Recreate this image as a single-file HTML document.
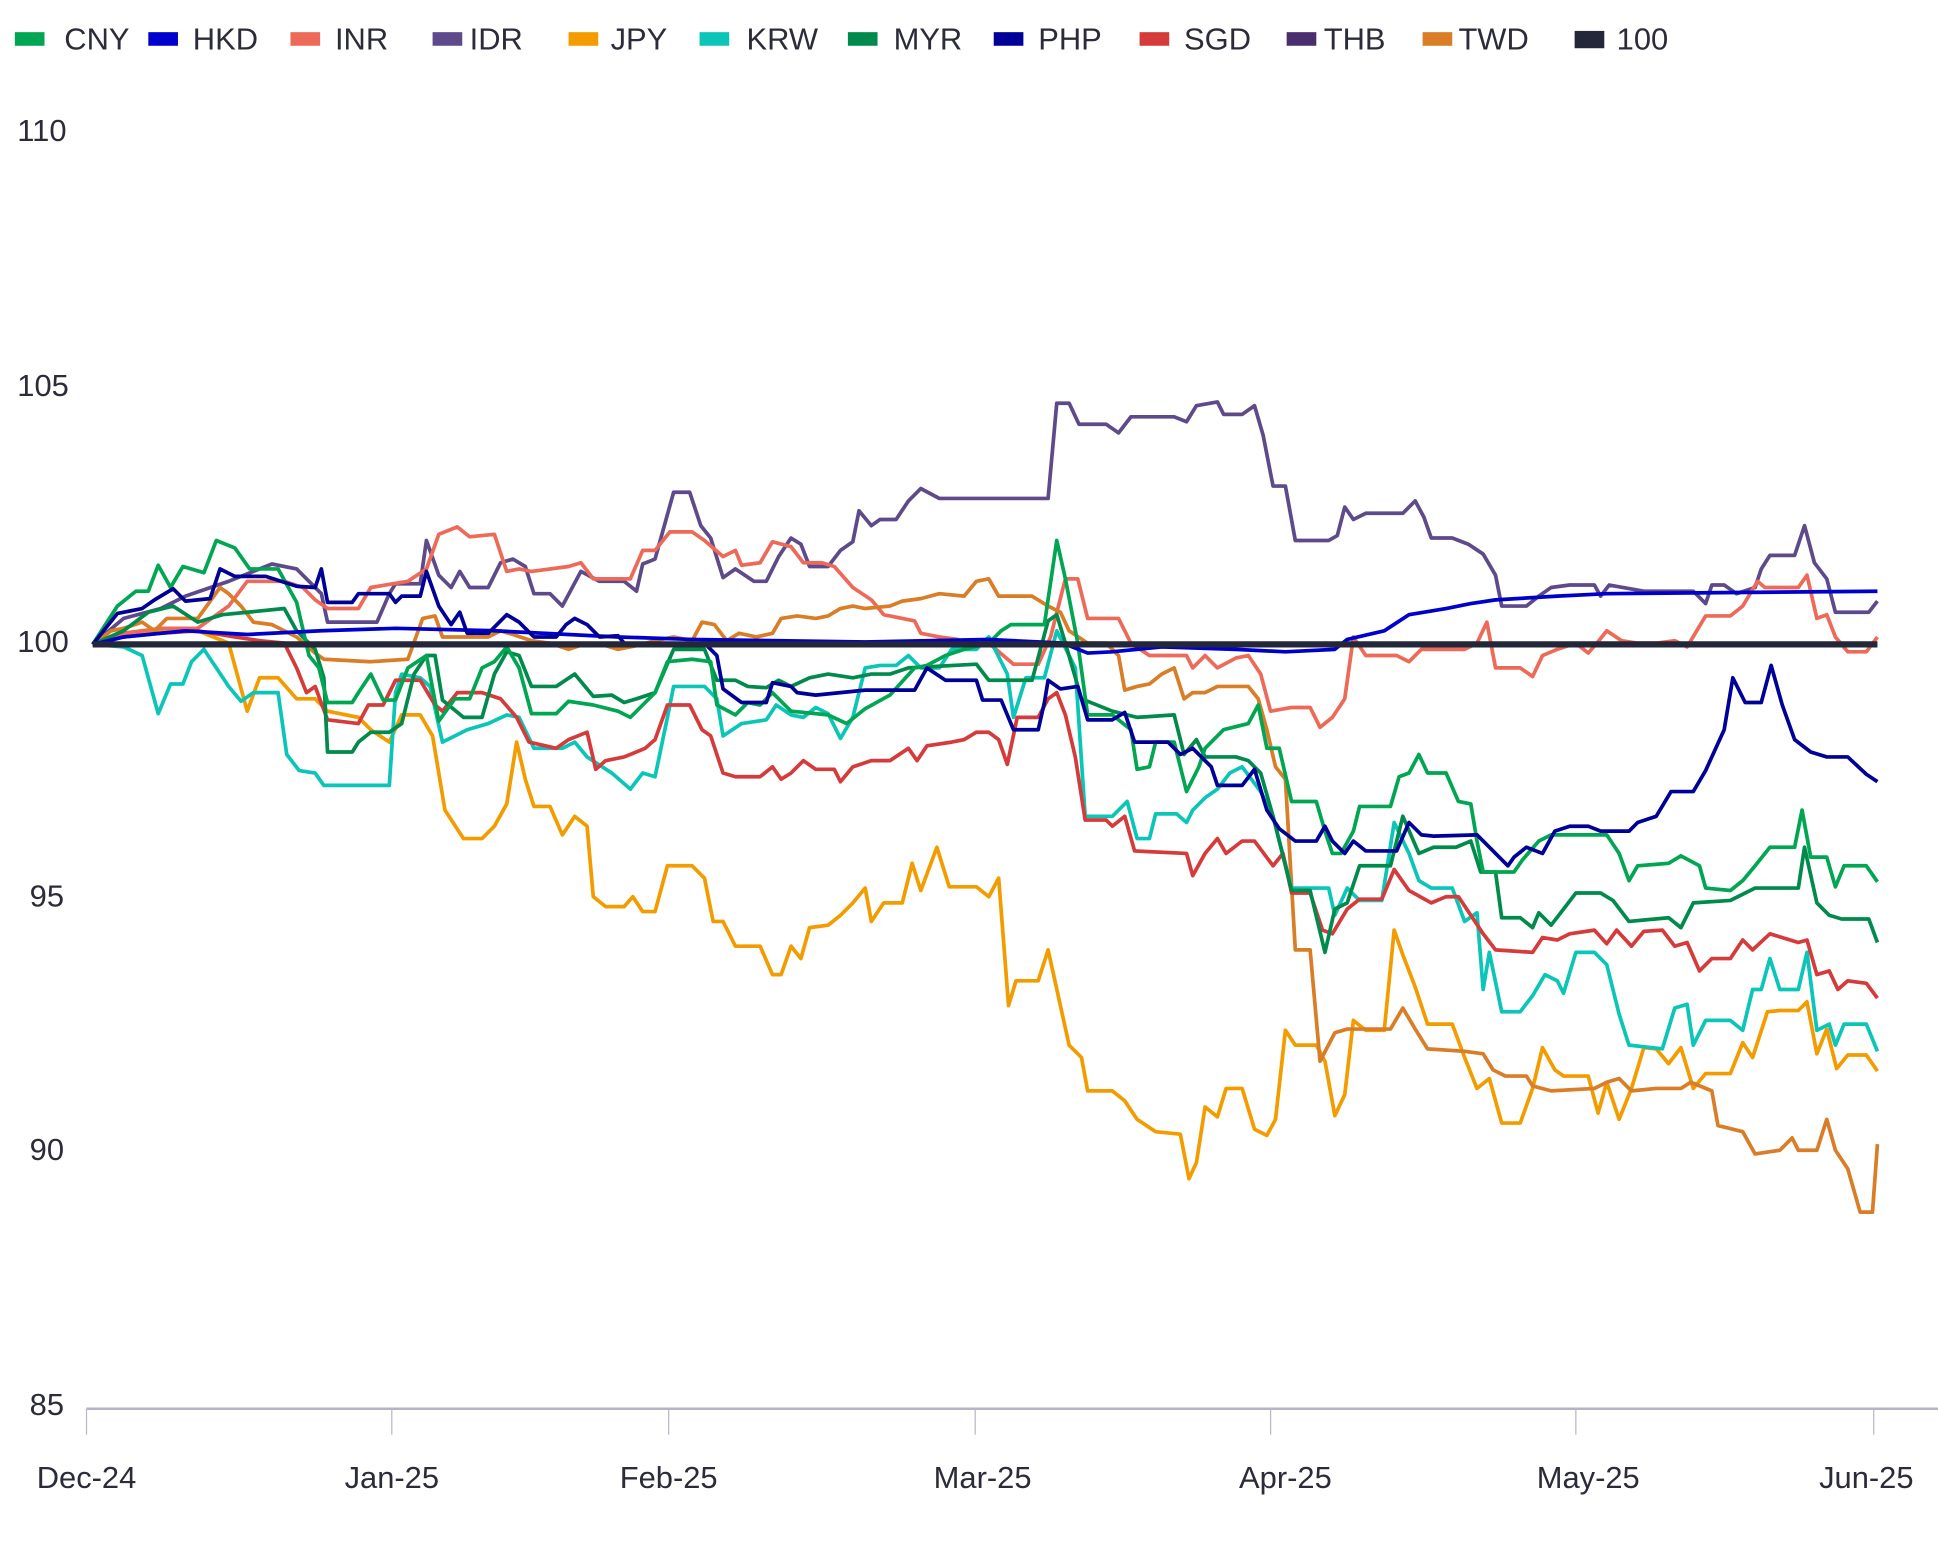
<!DOCTYPE html>
<html><head><meta charset="utf-8"><style>html,body{margin:0;padding:0;background:#fff}svg{display:block}</style></head><body>
<svg width="1938" height="1551" viewBox="0 0 1568 1254" preserveAspectRatio="none" xmlns="http://www.w3.org/2000/svg" font-family="Liberation Sans, sans-serif" fill="#2b2b3a">
<g font-size="25" fill="#2b2b3a">
<rect x="12" y="26" width="24" height="11" fill="#00A651"/><text x="52" y="40">CNY</text>
<rect x="120" y="26" width="24" height="11" fill="#0000CC"/><text x="156" y="40">HKD</text>
<rect x="235" y="26" width="24" height="11" fill="#EE6A58"/><text x="271" y="40">INR</text>
<rect x="350" y="26" width="24" height="11" fill="#5E4A8A"/><text x="380" y="40">IDR</text>
<rect x="460" y="26" width="24" height="11" fill="#F39C00"/><text x="494" y="40">JPY</text>
<rect x="566" y="26" width="24" height="11" fill="#0BC6B8"/><text x="604" y="40">KRW</text>
<rect x="686" y="26" width="24" height="11" fill="#008A4B"/><text x="723" y="40">MYR</text>
<rect x="804" y="26" width="24" height="11" fill="#000099"/><text x="840" y="40">PHP</text>
<rect x="922" y="26" width="24" height="11" fill="#D63B3B"/><text x="958" y="40">SGD</text>
<rect x="1041" y="26" width="24" height="11" fill="#4B2E6E"/><text x="1071" y="40">THB</text>
<rect x="1151" y="26" width="24" height="11" fill="#D97D27"/><text x="1180" y="40">TWD</text>
<rect x="1274" y="25" width="24" height="14" fill="#24263a"/><text x="1308" y="40">100</text>
<text x="14" y="114">110</text><text x="14" y="320">105</text><text x="14" y="527">100</text>
<text x="24" y="733">95</text><text x="24" y="938">90</text><text x="24" y="1144">85</text>
</g>
<g font-size="25" text-anchor="middle">
<text x="70" y="1203">Dec-24</text><text x="317" y="1203">Jan-25</text><text x="541" y="1203">Feb-25</text><text x="795" y="1203">Mar-25</text><text x="1040" y="1203">Apr-25</text><text x="1285" y="1203">May-25</text><text x="1510" y="1203">Jun-25</text>
</g>
<line x1="70" y1="1139" x2="1568" y2="1139" stroke="#b3b3c6" stroke-width="2"/>
<g stroke="#b8b8c8" stroke-width="1">
<line x1="70" y1="1139" x2="70" y2="1160"/><line x1="317" y1="1139" x2="317" y2="1160"/><line x1="541" y1="1139" x2="541" y2="1160"/><line x1="789" y1="1139" x2="789" y2="1160"/><line x1="1028" y1="1139" x2="1028" y2="1160"/><line x1="1275" y1="1139" x2="1275" y2="1160"/><line x1="1516" y1="1139" x2="1516" y2="1160"/>
</g>
<g fill="none" stroke-width="3" stroke-linejoin="round">
<polyline stroke="#F39C00" points="75,521 100,515 130,510 160,510 185,520 200,575 210,548 225,548 240,565 255,565 265,575 290,580 300,590 315,600 325,578 340,578 350,595 360,655 375,678 390,678 400,668 410,650 418,600 425,630 432,652 445,652 455,675 465,660 475,668 480,725 490,733 505,733 512,725 520,737 530,737 540,700 560,700 570,710 577,745 585,745 595,765 615,765 625,788 632,788 640,765 648,775 655,750 670,748 680,740 690,730 700,718 705,745 715,730 730,730 738,698 745,720 758,685 768,717 790,717 800,725 808,710 816,813 822,793 840,793 848,768 865,845 875,855 880,882 900,882 910,890 920,905 935,915 955,917 962,953 968,940 975,895 985,903 992,880 1005,880 1015,913 1025,918 1032,905 1040,833 1048,845 1065,845 1072,858 1080,902 1088,885 1095,825 1105,833 1120,833 1128,752 1135,772 1145,798 1155,828 1175,828 1185,855 1195,880 1205,872 1215,908 1230,908 1240,880 1248,847 1258,865 1265,870 1285,870 1293,900 1300,875 1310,905 1320,880 1330,847 1340,848 1350,860 1360,847 1370,880 1380,868 1400,868 1410,843 1418,855 1430,818 1440,817 1455,817 1462,810 1470,852 1478,832 1486,864 1495,853 1510,853 1519,866"/>
<polyline stroke="#5E4A8A" points="75,521 100,500 130,492 150,482 185,470 220,456 240,460 260,480 265,503 305,503 315,480 320,472 340,472 345,437 355,465 365,475 372,462 380,475 395,475 405,455 415,452 425,458 432,480 445,480 455,490 470,462 485,470 505,470 515,478 520,456 530,452 545,398 558,398 567,425 575,435 585,467 595,460 610,470 620,470 630,450 640,435 648,440 655,458 670,458 680,445 690,438 695,413 705,425 712,420 725,420 735,405 745,395 760,403 848,403 855,326 865,326 873,343 895,343 905,350 915,337 950,337 960,341 968,328 985,325 990,335 1005,335 1015,328 1022,352 1030,393 1040,393 1048,437 1075,437 1082,433 1088,410 1095,420 1105,415 1135,415 1145,405 1152,418 1158,435 1175,435 1188,440 1200,448 1210,465 1215,490 1235,490 1245,482 1255,475 1270,473 1290,473 1295,482 1302,473 1330,478 1370,478 1380,488 1385,473 1395,473 1405,480 1420,475 1425,460 1432,449 1452,449 1460,425 1468,455 1478,468 1485,495 1512,495 1519,486"/>
<polyline stroke="#EE6A58" points="75,521 100,512 130,508 160,508 185,490 200,470 230,470 245,475 255,485 265,492 290,492 300,475 330,470 345,460 355,432 370,426 380,434 400,432 410,462 420,460 430,462 460,458 470,455 480,468 510,468 520,445 530,445 542,430 560,430 570,437 585,450 595,445 600,457 615,455 625,438 640,442 650,455 665,455 675,458 690,475 705,485 715,497 740,502 745,512 760,515 775,517 785,522 800,520 820,537 840,537 850,515 862,468 872,468 880,500 905,500 915,520 930,530 960,530 965,540 975,530 985,540 1000,532 1010,530 1020,545 1028,575 1045,572 1060,572 1068,588 1078,580 1088,565 1095,515 1105,530 1130,530 1140,535 1150,525 1185,525 1195,520 1203,503 1210,540 1230,540 1240,547 1248,530 1260,525 1275,520 1285,528 1292,520 1300,510 1312,518 1325,520 1340,520 1355,518 1365,523 1380,498 1400,498 1410,490 1422,470 1428,475 1455,475 1462,465 1470,500 1478,497 1485,515 1495,527 1510,527 1519,515"/>
<polyline stroke="#D97D27" points="75,521 90,510 100,508 115,503 125,510 135,500 160,500 178,475 185,480 195,490 205,503 220,505 240,515 255,528 262,533 300,535 330,533 342,500 352,498 358,515 395,515 405,510 415,513 430,518 445,520 460,525 475,520 490,522 500,525 515,522 530,518 545,515 560,518 568,503 578,505 588,518 598,512 612,515 625,512 632,500 645,498 660,500 670,498 680,492 690,490 700,492 720,490 730,486 745,484 760,480 780,482 790,470 800,468 808,482 835,482 848,490 858,495 865,510 880,520 895,520 905,530 910,558 920,555 930,553 940,545 950,540 958,565 965,560 975,560 985,555 1010,555 1018,565 1025,590 1032,620 1040,630 1048,768 1060,768 1068,858 1080,835 1090,832 1125,832 1135,815 1145,832 1155,848 1185,850 1200,852 1208,865 1218,870 1235,870 1240,878 1255,882 1290,880 1300,875 1310,872 1320,882 1340,880 1360,880 1368,875 1385,882 1390,910 1410,915 1420,933 1440,930 1450,920 1455,930 1470,930 1478,905 1485,930 1495,945 1505,980 1515,980 1519,925"/>
<polyline stroke="#0BC6B8" points="75,521 100,523 115,530 128,577 138,553 148,553 155,535 165,525 175,540 185,555 195,567 205,560 225,560 232,610 242,623 255,625 262,635 315,635 320,560 325,545 340,548 348,555 358,600 368,595 378,590 395,585 410,578 420,580 432,605 455,605 465,600 475,612 495,625 510,638 520,625 530,628 540,580 545,555 570,555 580,565 585,595 600,585 620,582 628,570 640,578 650,580 660,572 670,577 680,597 690,580 700,540 712,538 725,538 735,530 745,540 760,540 770,525 790,525 800,515 815,545 820,580 830,548 845,548 855,510 870,540 878,660 900,660 912,648 920,678 930,678 935,658 952,658 960,665 965,655 975,645 985,638 995,625 1005,620 1020,640 1030,660 1045,718 1075,718 1080,740 1090,718 1100,728 1118,728 1128,665 1140,690 1148,712 1158,718 1175,718 1185,745 1195,738 1200,800 1205,770 1215,818 1230,818 1240,805 1250,788 1260,793 1265,803 1275,770 1290,770 1300,780 1310,820 1318,845 1345,848 1355,815 1365,812 1370,845 1380,825 1400,825 1410,833 1418,800 1425,800 1432,775 1440,800 1455,800 1462,770 1470,833 1480,828 1485,845 1492,828 1510,828 1519,850"/>
<polyline stroke="#D63B3B" points="75,521 100,515 130,512 160,510 190,515 210,518 230,520 240,540 248,560 255,555 265,582 290,585 298,570 310,570 320,550 340,550 352,570 358,575 370,560 390,560 405,565 418,580 428,600 450,605 460,598 475,592 482,622 490,615 505,612 522,605 530,598 540,570 558,570 568,590 575,595 585,625 595,628 615,628 625,620 632,630 640,625 650,615 660,622 675,622 680,632 690,620 705,615 720,615 735,605 742,615 750,603 770,600 780,598 790,592 800,592 808,598 815,618 823,580 840,580 848,565 855,560 862,578 870,612 878,663 895,663 900,668 910,660 918,688 960,690 965,708 975,690 985,678 992,690 1005,680 1015,680 1030,700 1038,690 1045,722 1060,722 1070,752 1078,755 1090,735 1100,727 1118,727 1128,703 1140,720 1158,730 1170,725 1180,725 1190,740 1200,755 1210,768 1240,770 1248,758 1260,760 1270,755 1290,752 1300,763 1308,752 1320,765 1330,753 1345,752 1355,765 1365,762 1375,785 1385,775 1400,775 1410,760 1418,768 1432,755 1455,762 1462,760 1470,788 1480,785 1487,800 1495,793 1510,795 1519,807"/>
<polyline stroke="#008A4B" points="75,521 100,510 120,495 140,490 160,503 180,497 200,495 230,492 240,510 255,525 262,548 265,608 285,608 290,600 300,592 315,592 325,585 335,545 345,530 352,530 358,566 375,580 390,580 400,545 410,527 420,530 430,555 450,555 465,545 480,563 495,562 505,568 515,565 530,560 545,525 570,525 580,550 595,550 605,555 620,556 630,550 640,555 655,548 670,545 690,548 705,545 720,545 735,540 790,537 800,550 835,550 848,502 855,497 862,520 875,565 900,575 920,580 950,578 958,610 968,598 975,612 1000,612 1010,615 1020,625 1030,660 1045,720 1060,720 1072,770 1080,735 1090,730 1100,700 1125,700 1135,660 1148,690 1160,685 1178,685 1190,680 1198,705 1210,705 1215,742 1230,742 1240,750 1245,738 1255,748 1265,735 1275,722 1295,722 1305,728 1318,745 1350,742 1360,750 1370,730 1400,728 1420,718 1455,718 1460,685 1470,730 1480,740 1490,743 1512,743 1519,762"/>
<polyline stroke="#00A651" points="75,521 95,490 110,478 120,478 128,457 138,475 148,458 165,463 175,437 190,443 202,460 225,460 240,487 250,530 258,540 265,568 285,568 290,560 300,545 310,566 320,566 330,540 345,530 355,583 368,565 380,565 390,540 400,535 410,523 420,540 430,577 450,577 460,567 480,570 500,575 510,580 520,570 530,560 540,535 560,533 575,535 580,570 595,578 605,568 615,570 625,560 640,575 670,578 685,585 700,573 720,562 740,540 750,538 765,530 780,525 800,520 810,510 818,505 845,505 855,437 862,468 872,520 880,578 900,578 915,590 920,622 930,620 935,600 950,600 960,640 970,620 975,605 990,590 1010,585 1018,570 1025,605 1035,605 1045,648 1065,648 1072,672 1078,690 1085,690 1095,672 1100,652 1125,652 1132,628 1140,625 1148,610 1155,625 1170,625 1180,648 1190,650 1195,680 1200,705 1225,705 1232,695 1245,680 1255,675 1300,675 1310,690 1318,712 1325,700 1350,698 1360,692 1375,700 1380,718 1400,720 1410,712 1420,700 1432,685 1452,685 1458,655 1465,693 1478,693 1485,717 1492,700 1510,700 1519,713"/>
<polyline stroke="#0000CC" points="75,521 100,515 150,510 200,513 260,510 320,508 400,510 500,515 560,517 700,519 800,517 860,520 880,528 900,527 940,523 1000,525 1040,527 1080,525 1090,517 1120,510 1140,497 1170,492 1190,488 1210,485 1260,482 1300,480 1519,478"/>
<polyline stroke="#000099" points="75,521 95,496 115,492 125,485 140,476 150,486 170,484 178,460 190,466 215,466 240,474 255,475 260,460 265,487 285,487 290,480 315,480 320,487 325,482 340,482 345,462 355,490 365,505 372,495 378,512 395,512 410,497 420,503 432,515 450,515 458,505 465,500 475,505 485,515 500,514 505,520 520,522 570,520 580,530 585,557 600,568 620,568 625,552 640,555 645,560 660,562 700,558 740,558 750,540 765,550 790,550 795,566 810,566 820,590 840,590 845,568 848,550 858,557 872,555 880,582 900,582 910,576 918,600 945,600 955,610 965,605 980,620 985,635 1005,635 1015,622 1025,655 1035,670 1048,680 1065,680 1072,668 1078,680 1088,690 1095,680 1105,688 1130,688 1140,665 1150,675 1160,676 1195,675 1205,685 1210,690 1220,700 1225,693 1235,685 1248,690 1258,672 1270,668 1285,668 1295,672 1318,672 1325,665 1340,660 1352,640 1370,640 1380,623 1395,590 1402,548 1412,568 1425,568 1433,538 1442,570 1452,598 1465,608 1478,612 1495,612 1510,626 1519,632"/>
</g>
<line x1="75" y1="521" x2="1519" y2="521" stroke="#24263a" stroke-width="5"/>
</svg>
</body></html>
